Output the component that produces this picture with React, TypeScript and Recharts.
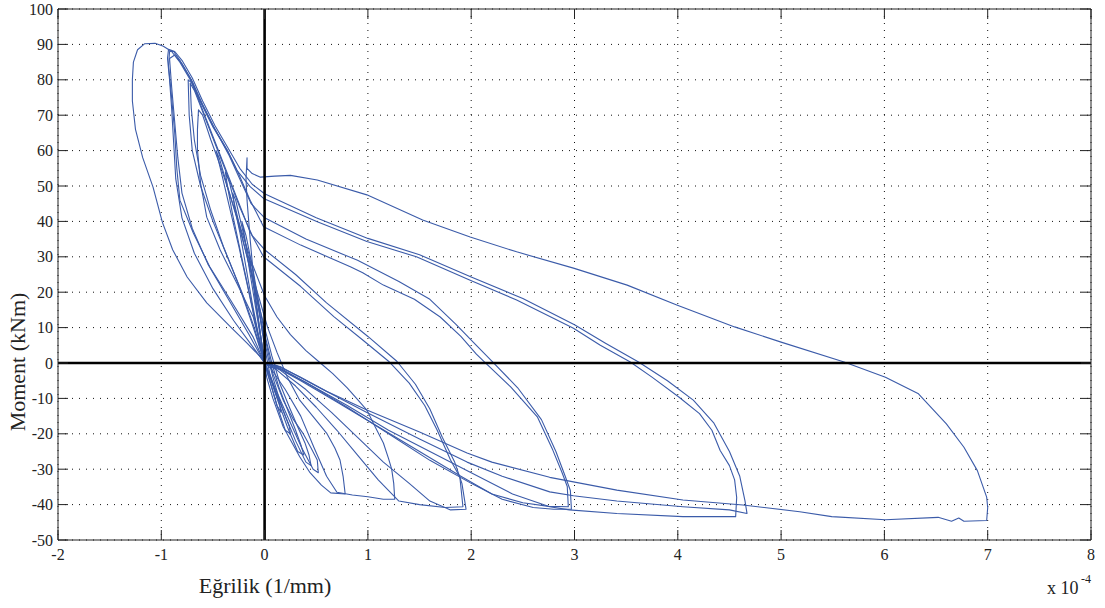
import React from 'react';
import { LineChart, Line, XAxis, YAxis, CartesianGrid, ReferenceLine } from 'recharts';

type Pt = [number, number];

// curvature in units of 1e-4 1/mm, moment in kNm
const xTicks = [-2, -1, 0, 1, 2, 3, 4, 5, 6, 7, 8];
const yTicks = [-50, -40, -30, -20, -10, 0, 10, 20, 30, 40, 50, 60, 70, 80, 90, 100];

const cycle0: Pt[] = [
  [0, 0], [-0.03, 6], [-0.06, 12], [-0.09, 18], [-0.1, 22], [-0.07, 18], [-0.03, 10], [0.01, 3],
  [0.05, -3], [0.1, -8], [0.14, -11], [0.16, -14], [0.12, -12], [0.06, -6], [0, 0],
];

const cycle1: Pt[] = [
  [0, 0], [-0.04, 8], [-0.08, 16], [-0.12, 24], [-0.15, 30], [-0.12, 27], [-0.07, 18], [-0.02, 9],
  [0.03, 2], [0.08, -4], [0.14, -10], [0.2, -15], [0.24, -18], [0.25, -20], [0.2, -19], [0.12, -12],
  [0.05, -5], [0, 0],
];

const cycle2: Pt[] = [
  [0, 0], [-0.05, 9], [-0.1, 18], [-0.15, 27], [-0.19, 35], [-0.22, 40], [-0.18, 36], [-0.11, 26],
  [-0.05, 16], [0.01, 7], [0.07, 0], [0.14, -7], [0.22, -13], [0.3, -19], [0.35, -23], [0.38, -26],
  [0.32, -25], [0.22, -18], [0.12, -10], [0.04, -3], [0, 0],
];

const cycle3: Pt[] = [
  [0, 0], [-0.06, 8], [-0.12, 17], [-0.18, 27], [-0.24, 37], [-0.29, 44], [-0.31, 48],
  [-0.28, 46], [-0.2, 36], [-0.12, 25], [-0.05, 14], [0.02, 5], [0.08, -3], [0.18, -10.5], [0.28, -16],
  [0.37, -19.8], [0.45, -24], [0.51, -27.4], [0.52, -31],
  [0.47, -30], [0.36, -24], [0.22, -15], [0.1, -7], [0.02, -1], [0, 0],
];

const cycle3b: Pt[] = [
  [0, 0], [-0.07, 9], [-0.15, 20], [-0.23, 31], [-0.31, 42], [-0.36, 50], [-0.38, 54],
  [-0.34, 51], [-0.26, 41], [-0.17, 30], [-0.08, 19], [0.0, 10], [0.07, 2], [0.15, -6], [0.24, -12.5],
  [0.32, -18], [0.39, -22.5], [0.43, -26], [0.45, -29],
  [0.4, -28], [0.3, -22], [0.18, -13.5], [0.08, -6], [0.02, -1.5], [0, 0],
];

const cycle4: Pt[] = [
  [0, 0], [-0.08, 10], [-0.16, 21], [-0.25, 33], [-0.34, 44], [-0.42, 54], [-0.47, 60],
  [-0.44, 58], [-0.36, 50], [-0.26, 40], [-0.16, 29], [-0.06, 19], [0.03, 10], [0.12, 3], [0.22, -4],
  [0.34, -10.5], [0.48, -15.5], [0.6, -19.8], [0.68, -24], [0.73, -27.4], [0.76, -32], [0.78, -37],
  [0.64, -36.7], [0.55, -34.5], [0.44, -31], [0.34, -26.5], [0.18, -18], [0.08, -10], [0.02, -4], [0, 0],
];

const cycle5: Pt[] = [
  [0, 0], [-0.11, 13], [-0.27, 22.6], [-0.43, 31.9], [-0.56, 41.2], [-0.62, 50.8], [-0.65, 60.2],
  [-0.65, 66], [-0.64, 71.5],
  [-0.6, 70], [-0.52, 63], [-0.42, 55], [-0.32, 46], [-0.22, 37], [-0.12, 28], [0, 19], [0.12, 13],
  [0.25, 8], [0.4, 3.5], [0.54, 0], [0.66, -3], [0.8, -7], [0.92, -11], [0.99, -13.3], [1.07, -18],
  [1.15, -22.6], [1.2, -27], [1.23, -30], [1.25, -34], [1.26, -38.5],
  [1.15, -38.5], [1.0, -37.8], [0.85, -37.3], [0.7, -36.5], [0.6, -32], [0.48, -24], [0.35, -15],
  [0.2, -7.5], [0.06, -1.5], [0, 0],
];

const cycle6: Pt[] = [
  [0, 0], [-0.1, 10], [-0.22, 20], [-0.36, 30], [-0.5, 40], [-0.62, 50], [-0.7, 60], [-0.73, 70], [-0.74, 80],
  [-0.7, 79], [-0.62, 73], [-0.5, 64], [-0.38, 55], [-0.26, 46], [-0.14, 37], [-0.01, 30], [0.35, 21.6],
  [0.67, 13.1], [0.95, 6.5], [1.2, 0.5], [1.4, -5.7], [1.55, -12], [1.67, -18.9], [1.8, -27.4],
  [1.89, -32.2], [1.92, -40.6],
  [1.75, -40.8], [1.5, -40], [1.3, -39], [1.1, -33], [0.9, -26], [0.7, -19], [0.5, -12.5], [0.3, -6.5],
  [0.12, -2], [0, 0],
];

const cycle7: Pt[] = [
  [0, 0], [-0.12, 11], [-0.25, 22], [-0.4, 33], [-0.52, 43], [-0.62, 53], [-0.68, 63], [-0.71, 72], [-0.72, 79],
  [-0.68, 77], [-0.6, 71], [-0.48, 62], [-0.36, 53], [-0.24, 44], [-0.12, 36], [0, 32], [0.3, 25],
  [0.6, 17], [1.0, 7.5], [1.28, 0.5], [1.46, -6], [1.6, -13], [1.72, -21], [1.84, -28], [1.91, -34],
  [1.95, -41.3],
  [1.8, -41.5], [1.6, -39], [1.4, -34], [1.15, -28], [0.9, -21], [0.65, -14], [0.4, -7.5], [0.15, -2], [0, 0],
];

const cycle8: Pt[] = [
  [0, 0], [-0.11, 7.3], [-0.33, 17.8], [-0.53, 27.1], [-0.69, 36.7], [-0.82, 46], [-0.85, 55],
  [-0.87, 65], [-0.9, 75], [-0.93, 84], [-0.92, 88],
  [-0.88, 88], [-0.82, 85.5], [-0.72, 80.5], [-0.63, 74.5], [-0.5, 67], [-0.36, 60], [-0.26, 54],
  [-0.14, 46], [-0.01, 38.5], [0.35, 33.3], [0.83, 27.2], [0.95, 25.5], [1.15, 22], [1.45, 18],
  [1.7, 13], [1.9, 7.5], [2.05, 2.5], [2.12, 0.5], [2.38, -6.7], [2.64, -15.2], [2.79, -24.6],
  [2.88, -31], [2.93, -34.9], [2.94, -40.6],
  [2.75, -40.5], [2.5, -39.5], [2.2, -37], [1.9, -32], [1.5, -25], [1.1, -18], [0.7, -11], [0.35, -5],
  [0.1, -1], [0, 0],
];

const cycle9: Pt[] = [
  [0, 0], [-0.15, 8], [-0.35, 18], [-0.55, 28], [-0.7, 38], [-0.8, 48], [-0.84, 58], [-0.87, 68],
  [-0.9, 78], [-0.92, 86],
  [-0.87, 87], [-0.8, 84.5], [-0.7, 79.5], [-0.6, 73], [-0.48, 66], [-0.35, 59], [-0.24, 52],
  [-0.13, 45], [0, 41], [0.4, 35], [0.9, 29], [1.3, 23], [1.6, 18], [1.85, 11], [2.05, 5], [2.2, 0.5],
  [2.45, -7], [2.68, -16], [2.82, -25], [2.91, -32], [2.96, -36], [2.97, -41.3],
  [2.8, -41.3], [2.6, -40.8], [2.3, -38.5], [2.0, -34], [1.6, -27.5], [1.2, -20], [0.8, -12.5],
  [0.4, -5.5], [0.12, -1], [0, 0],
];

const cycle10: Pt[] = [
  [0, 0], [-0.04, 1.7], [-0.17, 5.6], [-0.33, 10.2], [-0.56, 17], [-0.75, 24.3], [-0.89, 32],
  [-0.99, 39.8], [-1.08, 49.7], [-1.18, 58], [-1.25, 66], [-1.28, 74], [-1.28, 80], [-1.27, 85],
  [-1.23, 88.5], [-1.16, 90.2], [-1.06, 90.3],
  [-0.98, 89.5], [-0.9, 88], [-0.82, 85], [-0.72, 80], [-0.63, 74.3], [-0.5, 66.7], [-0.36, 60],
  [-0.27, 54.5], [-0.14, 49.8], [-0.01, 46.5], [0.51, 39.9], [0.99, 34.3], [1.47, 30], [1.99, 23.4],
  [2.44, 17.8], [2.99, 9.8], [3.25, 5], [3.54, 0.3], [3.75, -4], [4.01, -9.6], [4.21, -14.3],
  [4.33, -19], [4.41, -24.7], [4.5, -29], [4.55, -33], [4.57, -38], [4.56, -43.4],
  [4.4, -43.4], [4.05, -43.4], [3.41, -42.5], [2.95, -41.5], [2.76, -40.6], [2.4, -37], [2.0, -31],
  [1.6, -25], [1.2, -19], [0.8, -12], [0.4, -5.5], [0.1, -1], [0, 0],
];

const cycle11: Pt[] = [
  [0, 0], [-0.1, 4], [-0.3, 12], [-0.5, 21], [-0.68, 31], [-0.8, 41], [-0.86, 52], [-0.88, 62],
  [-0.9, 72], [-0.92, 80], [-0.94, 86], [-0.93, 88.6],
  [-0.87, 88], [-0.8, 85.5], [-0.7, 80.5], [-0.6, 74], [-0.48, 67], [-0.35, 60.5], [-0.24, 55],
  [-0.12, 50.5], [0, 47.8], [0.5, 41], [1.0, 35.2], [1.5, 30.6], [2.0, 24.3], [2.5, 18.2], [3.0, 10.8],
  [3.3, 5.6], [3.62, 0.3], [3.9, -5], [4.15, -10.5], [4.35, -17], [4.5, -25], [4.6, -32], [4.65, -38.9],
  [4.67, -42.5],
  [4.5, -41.5], [4.05, -40.6], [3.41, -39], [2.99, -37.5], [2.76, -36.4], [2.3, -32], [1.96, -28],
  [1.5, -21.5], [0.99, -14], [0.5, -6.5], [0.15, -1], [0, 0],
];

const cycle12: Pt[] = [
  [0, 0], [-0.05, 10], [-0.1, 22], [-0.14, 35], [-0.17, 46], [-0.18, 52], [-0.17, 58], [-0.17, 55],
  [-0.12, 53.5], [-0.04, 52.5], [0.1, 52.8], [0.25, 53], [0.51, 51.7], [0.99, 47.5], [1.53, 40.4],
  [1.99, 35.6], [2.44, 31.4], [2.99, 26.8], [3.51, 22], [3.99, 16.4], [4.55, 10.2], [5.0, 5.9],
  [5.61, 0.3], [6.01, -4], [6.33, -8.7], [6.6, -17.2], [6.77, -23.8], [6.9, -30.4], [6.99, -37.9],
  [7.0, -40.8], [6.99, -44.5], [6.77, -44.7], [6.72, -43.8], [6.65, -44.7], [6.52, -43.6],
  [6.01, -44.3], [5.49, -43.4], [5.18, -42], [4.63, -40.1], [4.05, -38.7], [3.41, -35.9],
  [2.76, -32.3], [2.2, -28], [1.96, -25.4], [1.5, -19.5], [0.99, -13.3], [0.6, -8], [0.34, -3.9],
  [0.1, -0.5],
];

const cycles = [
  cycle0, cycle1, cycle2, cycle3, cycle3b, cycle4, cycle5, cycle6, cycle7, cycle8, cycle9, cycle10, cycle11, cycle12,
];

const PLOT = { left: 58, top: 9, right: 1091, bottom: 540 };
const FONT = '"Liberation Serif", "Times New Roman", serif';
const INK = '#222';
const BLUE = '#3b5ba9';

const XTick = (props: any) => {
  const { x, y, payload } = props;
  return (
    <g>
      <line x1={x} y1={y} x2={x} y2={y - 10} stroke={INK} />
      <line x1={x} y1={PLOT.top} x2={x} y2={PLOT.top + 10} stroke={INK} />
      <text x={x} y={y + 20} textAnchor="middle" fontSize={16} fill={INK} fontFamily={FONT}>
        {payload.value}
      </text>
    </g>
  );
};

const YTick = (props: any) => {
  const { x, y, payload } = props;
  return (
    <g>
      <line x1={x} y1={y} x2={x + 10} y2={y} stroke={INK} />
      <line x1={PLOT.right} y1={y} x2={PLOT.right - 10} y2={y} stroke={INK} />
      <text x={x - 5} y={y + 5.5} textAnchor="end" fontSize={16} fill={INK} fontFamily={FONT}>
        {payload.value}
      </text>
    </g>
  );
};

export default function App() {
  return (
    <div style={{ position: 'absolute', left: 0, top: 0, width: 1105, height: 608, background: '#fff' }}>
      <LineChart width={1105} height={608} margin={{ top: PLOT.top, right: 1105 - PLOT.right, bottom: 0, left: 0 }}>
        <CartesianGrid stroke="#111" strokeDasharray="1 6" />
        <XAxis
          dataKey="x"
          type="number"
          domain={[-2, 8]}
          ticks={xTicks}
          allowDataOverflow
          height={608 - PLOT.bottom}
          tickSize={0}
          tickMargin={0}
          tickLine={false}
          tick={<XTick />}
          axisLine={{ stroke: INK }}
        />
        <YAxis
          type="number"
          domain={[-50, 100]}
          ticks={yTicks}
          allowDataOverflow
          width={PLOT.left}
          tickSize={0}
          tickMargin={0}
          tickLine={false}
          tick={<YTick />}
          axisLine={{ stroke: INK }}
        />
        {cycles.map((c, i) => (
          <Line
            key={i}
            data={c.map(([x, y]) => ({ x, y }))}
            dataKey="y"
            type="linear"
            stroke={BLUE}
            strokeWidth={1.1}
            strokeLinejoin="round"
            dot={false}
            activeDot={false}
            isAnimationActive={false}
          />
        ))}
        <ReferenceLine x={0} stroke="#000" strokeWidth={2.6} />
        <ReferenceLine y={0} stroke="#000" strokeWidth={2.6} />
        <ReferenceLine x={8} stroke={INK} />
        <ReferenceLine y={100} stroke={INK} />
      </LineChart>
      <svg width={1105} height={608} style={{ position: 'absolute', left: 0, top: 0, pointerEvents: 'none' }}>
        <text x={265} y={593} textAnchor="middle" fontSize={22} fill={INK} fontFamily={FONT}>
          Eğrilik (1/mm)
        </text>
        <text transform="translate(25,362) rotate(-90)" textAnchor="middle" fontSize={22} fill={INK} fontFamily={FONT}>
          Moment (kNm)
        </text>
        <text x={1047} y={594} fontSize={18} fill={INK} fontFamily={FONT}>
          x 10
        </text>
        <text x={1081} y={583} fontSize={12} fill={INK} fontFamily={FONT}>
          -4
        </text>
      </svg>
    </div>
  );
}
